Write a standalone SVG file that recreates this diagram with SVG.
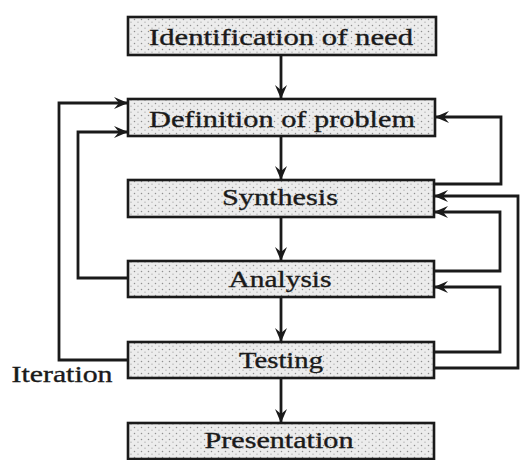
<svg xmlns="http://www.w3.org/2000/svg" width="520" height="460" viewBox="0 0 520 460">
<defs>
<pattern id="stip" width="7" height="6" patternUnits="userSpaceOnUse">
<rect width="7" height="6" fill="#ececec"/>
<circle cx="1.5" cy="1.5" r="0.75" fill="#8f8f8f"/>
<circle cx="5" cy="4.2" r="0.65" fill="#a8a8a8"/>
</pattern>
<marker id="arr" viewBox="0 0 14 12" refX="13" refY="6" markerWidth="14" markerHeight="12" markerUnits="userSpaceOnUse" orient="auto">
<path d="M0,0 L14,6 L0,12 L5,6 z" fill="#1a1a1a"/>
</marker>
</defs>
<style>
.box{fill:url(#stip);stroke:#1a1a1a;stroke-width:2.6}
.lbl{font-family:"Liberation Serif","Times New Roman",serif;font-size:23px;fill:#1a1a1a;text-anchor:middle;stroke:#1a1a1a;stroke-width:0.35}
.con{fill:none;stroke:#1a1a1a;stroke-width:2.8}
</style>
<rect width="520" height="460" fill="#fff"/>
<g id="n-identification"><rect class="box" x="128" y="17" width="308" height="38"/><text class="lbl" x="281" y="45" textLength="264" lengthAdjust="spacingAndGlyphs">Identification of need</text></g>
<g id="n-definition"><rect class="box" x="128" y="99" width="307" height="37"/><text class="lbl" x="282" y="127" textLength="266" lengthAdjust="spacingAndGlyphs">Definition of problem</text></g>
<g id="n-synthesis"><rect class="box" x="128" y="180" width="306" height="37"/><text class="lbl" x="280" y="205" textLength="116" lengthAdjust="spacingAndGlyphs">Synthesis</text></g>
<g id="n-analysis"><rect class="box" x="128" y="261" width="306" height="36"/><text class="lbl" x="280" y="287" textLength="103" lengthAdjust="spacingAndGlyphs">Analysis</text></g>
<g id="n-testing"><rect class="box" x="128" y="342" width="306" height="36"/><text class="lbl" x="281" y="368" textLength="84" lengthAdjust="spacingAndGlyphs">Testing</text></g>
<g id="n-presentation"><rect class="box" x="128" y="423" width="306" height="36"/><text class="lbl" x="279" y="448" textLength="149" lengthAdjust="spacingAndGlyphs">Presentation</text></g>
<text class="lbl" x="62" y="382" textLength="101" lengthAdjust="spacingAndGlyphs">Iteration</text>
<g id="connectors">
<path class="con" d="M281,55 V98" marker-end="url(#arr)"/>
<path class="con" d="M281,136 V179" marker-end="url(#arr)"/>
<path class="con" d="M281,217 V260" marker-end="url(#arr)"/>
<path class="con" d="M281,297 V341" marker-end="url(#arr)"/>
<path class="con" d="M281,378 V422" marker-end="url(#arr)"/>
<path class="con" d="M128,360 H59 V103 H127" marker-end="url(#arr)"/>
<path class="con" d="M128,278 H78 V132 H127" marker-end="url(#arr)"/>
<path class="con" d="M434,184 H501 V117 H436" marker-end="url(#arr)"/>
<path class="con" d="M434,271 H500 V212 H435" marker-end="url(#arr)"/>
<path class="con" d="M434,352 H500 V287 H435" marker-end="url(#arr)"/>
<path class="con" d="M434,368 H518 V196 H435" marker-end="url(#arr)"/>
</g>
</svg>
